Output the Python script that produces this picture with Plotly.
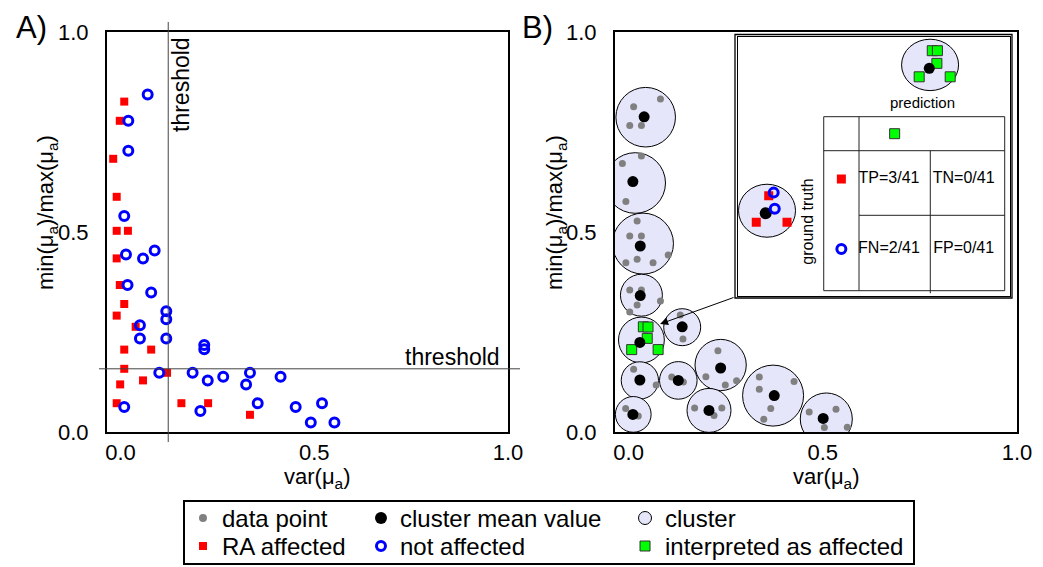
import plotly.graph_objects as go

W, H = 1043, 567
FONT = "Liberation Sans, Arial, sans-serif"

# ---------------- Panel A data ----------------
ra_var = [0.0095, -0.002, -0.019, -0.010, -0.010, 0.019, -0.010, -0.002, 0.0095, -0.010,
          0.039, 0.0095, 0.079, 0.0095, 0.120, -0.001, 0.058, -0.010, 0.157, 0.226, 0.334]
ra_ratio = [0.826, 0.778, 0.683, 0.588, 0.503, 0.503, 0.434, 0.3675, 0.32, 0.291,
            0.263, 0.206, 0.206, 0.158, 0.148, 0.119, 0.129, 0.072, 0.072, 0.072, 0.043]
na_var = [0.070, 0.020, 0.020, 0.0095, 0.014, 0.058, 0.088, 0.018, 0.079, 0.118,
          0.118, 0.050, 0.050, 0.118, 0.216, 0.216, 0.100, 0.186, 0.225, 0.265,
          0.334, 0.324, 0.413, 0.0095, 0.206, 0.354, 0.452, 0.520, 0.491, 0.552]
na_ratio = [0.844, 0.778, 0.703, 0.54, 0.444, 0.434, 0.454, 0.3675, 0.349, 0.302,
            0.282, 0.267, 0.234, 0.234, 0.2175, 0.207, 0.148, 0.148, 0.129, 0.138,
            0.148, 0.119, 0.138, 0.0625, 0.0525, 0.072, 0.0625, 0.072, 0.024, 0.024]
threshold_var = 0.123
threshold_ratio = 0.158

# ---------------- Panel B data ----------------
cluster_x = [0.044, 0.017, 0.037, 0.033, 0.033, 0.138, 0.029, 0.128, 0.237, 0.207, 0.372, 0.509, 0.012]
cluster_y = [0.787, 0.6225, 0.471, 0.342, 0.23, 0.262, 0.129, 0.129, 0.1675, 0.054, 0.091, 0.0325, 0.044]
cluster_r = [0.0767, 0.078, 0.0785, 0.054, 0.059, 0.0476, 0.048, 0.0484, 0.066, 0.0566, 0.0785, 0.067, 0.046]
mean_x = [0.040, 0.011, 0.030, 0.030, 0.029, 0.138, 0.029, 0.128, 0.237, 0.207, 0.375, 0.501, 0.011]
mean_y = [0.788, 0.626, 0.465, 0.341, 0.224, 0.263, 0.130, 0.129, 0.160, 0.054, 0.091, 0.034, 0.044]
point_x = [0.013, 0.082, 0.003, 0.033,
           0.033, -0.016, -0.007,
           0.022, 0.003, 0.033, 0.102, -0.007, 0.022, 0.063,
           0.003, 0.033, 0.082, 0.022, 0.003,
           0.133, 0.140,
           0.013, 0.071,
           0.111, 0.141,
           0.230, 0.199, 0.249, 0.278,
           0.170, 0.240, 0.220,
           0.3365, 0.426, 0.3365, 0.366, 0.348,
           0.465, 0.534, 0.504, 0.563,
           -0.0075, 0.025]
point_y = [0.813, 0.8325, 0.766, 0.766,
           0.69, 0.671, 0.576,
           0.5275, 0.49, 0.49, 0.4425, 0.423, 0.432, 0.423,
           0.355, 0.355, 0.3275, 0.3175, 0.30,
           0.2925, 0.2325,
           0.157, 0.1175,
           0.1375, 0.125,
           0.203, 0.138, 0.1175, 0.128,
           0.06, 0.06, 0.041,
           0.1375, 0.126, 0.107, 0.059, 0.032,
           0.05, 0.057, 0.011, 0.012,
           0.059, 0.04]
interp_x = [0.038, 0.050, 0.048, 0.008, 0.076]
interp_y = [0.263, 0.2625, 0.234, 0.206, 0.206]

# ---------------- Inset data (inset's own unit coordinates) ----------------
pred_cluster = dict(x=0.708, y=0.892, rx=0.1048, ry=0.0994)
pred_mean = ([0.705], [0.879])
pred_green_x = [0.716, 0.735, 0.733, 0.668, 0.782]
pred_green_y = [0.947, 0.947, 0.898, 0.846, 0.846]
gt_cluster = dict(x=0.1085, y=0.328, rx=0.1048, ry=0.1025)
gt_mean = ([0.1037], [0.318])
gt_red_x = [0.069, 0.182, 0.1147]
gt_red_y = [0.283, 0.283, 0.386]
gt_blue_x = [0.133, 0.137]
gt_blue_y = [0.398, 0.336]
table_cols = [0.317, 0.4467, 0.7088, 0.9824]
table_rows = [0.0186, 0.3102, 0.5602, 0.6917]
cm_labels = ["TP=3/41", "TN=0/41", "FN=2/41", "FP=0/41"]
cm_x = [0.557, 0.8316, 0.557, 0.8316]
cm_y = [0.4507, 0.4507, 0.18, 0.18]

# ---------------- Legend ----------------
legend_labels = ["data point", "cluster mean value", "cluster",
                 "RA affected", "not affected", "interpreted as affected"]

RED = "#ff0000"
BLUE = "#0000ff"
GREEN = "#00ff00"
GRAY = "#808080"
LAV = "#e6e6fa"


def pxx(x):
    return x / W


def pxy(y):
    return 1 - y / H


fig = go.Figure()

A_dom_x = [pxx(107), pxx(508)]
B_dom_x = [pxx(615), pxx(1017)]
dom_y = [pxy(432), pxy(32)]
xr = [-0.035, 1.0]
yr = [0, 1]
IN_dom_x = [pxx(737.5), pxx(1009.5)]
IN_dom_y = [pxy(295.5), pxy(37)]
LG_dom_x = [pxx(185), pxx(913)]
LG_dom_y = [pxy(563), pxy(502)]

# Panel A
fig.add_trace(go.Scatter(x=ra_var, y=ra_ratio, mode="markers", xaxis="x", yaxis="y",
                         marker=dict(symbol="square", size=8, color=RED), showlegend=False))
fig.add_trace(go.Scatter(x=na_var, y=na_ratio, mode="markers", xaxis="x", yaxis="y",
                         marker=dict(symbol="circle-open", size=9, color=BLUE, line=dict(width=3, color=BLUE)),
                         showlegend=False))

# Panel B
fig.add_trace(go.Scatter(x=point_x, y=point_y, mode="markers", xaxis="x2", yaxis="y2",
                         marker=dict(size=7, color=GRAY), showlegend=False))
fig.add_trace(go.Scatter(x=interp_x, y=interp_y, mode="markers", xaxis="x2", yaxis="y2",
                         marker=dict(symbol="square", size=10, color=GREEN, line=dict(width=1, color="#333333")),
                         showlegend=False))
fig.add_trace(go.Scatter(x=mean_x, y=mean_y, mode="markers", xaxis="x2", yaxis="y2",
                         marker=dict(size=11, color="black"), showlegend=False))

# Inset
fig.add_trace(go.Scatter(x=pred_green_x, y=pred_green_y, mode="markers", xaxis="x3", yaxis="y3",
                         marker=dict(symbol="square", size=10, color=GREEN, line=dict(width=1, color="#333333")),
                         showlegend=False))
fig.add_trace(go.Scatter(x=pred_mean[0], y=pred_mean[1], mode="markers", xaxis="x3", yaxis="y3",
                         marker=dict(size=11, color="black"), showlegend=False))
fig.add_trace(go.Scatter(x=gt_red_x, y=gt_red_y, mode="markers", xaxis="x3", yaxis="y3",
                         marker=dict(symbol="square", size=9, color=RED), showlegend=False))
fig.add_trace(go.Scatter(x=gt_mean[0], y=gt_mean[1], mode="markers", xaxis="x3", yaxis="y3",
                         marker=dict(size=12, color="black"), showlegend=False))
fig.add_trace(go.Scatter(x=gt_blue_x, y=gt_blue_y, mode="markers", xaxis="x3", yaxis="y3",
                         marker=dict(symbol="circle-open", size=9, color=BLUE, line=dict(width=3, color=BLUE)),
                         showlegend=False))
fig.add_trace(go.Scatter(x=[(table_cols[1] + table_cols[2]) / 2], y=[(table_rows[2] + table_rows[3]) / 2],
                         mode="markers", xaxis="x3", yaxis="y3",
                         marker=dict(symbol="square", size=10, color=GREEN, line=dict(width=1, color="#333333")),
                         showlegend=False))
fig.add_trace(go.Scatter(x=[(table_cols[0] + table_cols[1]) / 2], y=[cm_y[0]], mode="markers", xaxis="x3", yaxis="y3",
                         marker=dict(symbol="square", size=9, color=RED), showlegend=False))
fig.add_trace(go.Scatter(x=[(table_cols[0] + table_cols[1]) / 2], y=[cm_y[2]], mode="markers", xaxis="x3", yaxis="y3",
                         marker=dict(symbol="circle-open", size=9, color=BLUE, line=dict(width=3, color=BLUE)),
                         showlegend=False))
fig.add_trace(go.Scatter(x=cm_x, y=cm_y, mode="text", text=cm_labels, xaxis="x3", yaxis="y3",
                         textfont=dict(size=16, family=FONT, color="black"), showlegend=False))

ann = []

# Legend (manual)
leg_col_x = [0.0247, 0.2692, 0.6319]
leg_row_y = [0.7377, 0.2787]
leg_markers = [
    dict(size=8, color=GRAY),
    dict(size=12, color="black"),
    dict(size=13, color=LAV, line=dict(width=1, color="black")),
    dict(symbol="square", size=8, color=RED),
    dict(symbol="circle-open", size=9, color=BLUE, line=dict(width=3, color=BLUE)),
    dict(symbol="square", size=10, color=GREEN, line=dict(width=1, color="#333333")),
]
for i, lab in enumerate(legend_labels):
    cx = leg_col_x[i % 3]
    cy = leg_row_y[i // 3]
    fig.add_trace(go.Scatter(x=[cx], y=[cy], mode="markers", xaxis="x4", yaxis="y4",
                             marker=leg_markers[i], showlegend=False, cliponaxis=False))
    ann.append(dict(x=cx + 0.024, y=cy, xref="x4", yref="y4", text=lab, showarrow=False,
                    xanchor="left", yanchor="middle", font=dict(size=24, family=FONT, color="black")))

shapes = []
bx_ppu = (1017 - 615) / (xr[1] - xr[0])
by_ppu = (432 - 32) / (yr[1] - yr[0])
for cx, cy, r in zip(cluster_x, cluster_y, cluster_r):
    ry = r * bx_ppu / by_ppu
    shapes.append(dict(type="circle", xref="x2", yref="y2", x0=cx - r, x1=cx + r, y0=cy - ry, y1=cy + ry,
                       fillcolor=LAV, line=dict(color="black", width=1), layer="below"))
for c in (pred_cluster, gt_cluster):
    shapes.append(dict(type="circle", xref="x3", yref="y3", x0=c["x"] - c["rx"], x1=c["x"] + c["rx"],
                       y0=c["y"] - c["ry"], y1=c["y"] + c["ry"],
                       fillcolor=LAV, line=dict(color="black", width=1), layer="below"))
shapes.append(dict(type="line", xref="x", yref="paper", x0=threshold_var, x1=threshold_var,
                   y0=pxy(442), y1=pxy(22), line=dict(color="#444444", width=1)))
shapes.append(dict(type="line", xref="paper", yref="y", x0=pxx(99), x1=pxx(520),
                   y0=threshold_ratio, y1=threshold_ratio, line=dict(color="#444444", width=1)))
shapes.append(dict(type="rect", xref="paper", yref="paper", x0=pxx(735), x1=pxx(1012),
                   y0=pxy(298), y1=pxy(34.5), line=dict(color="black", width=1.3)))
tl = dict(color="#222222", width=1)
c0, c1, c2, c3 = table_cols
r0, r1, r2, r3 = table_rows
shapes.append(dict(type="rect", xref="x3", yref="y3", x0=c0, x1=c3, y0=r0, y1=r3, line=tl))
shapes.append(dict(type="line", xref="x3", yref="y3", x0=c1, x1=c1, y0=r0, y1=r3, line=tl))
shapes.append(dict(type="line", xref="x3", yref="y3", x0=c2, x1=c2, y0=r0 - 0.01, y1=r2, line=tl))
shapes.append(dict(type="line", xref="x3", yref="y3", x0=c0, x1=c3, y0=r2, y1=r2, line=tl))
shapes.append(dict(type="line", xref="x3", yref="y3", x0=c1, x1=c3, y0=r1, y1=r1, line=tl))

tick_font = dict(size=22, family=FONT, color="black")
title_font = dict(size=22, family=FONT, color="black")
C = dict(xanchor="center", yanchor="middle", showarrow=False, xref="paper", yref="paper")
ann.append(dict(x=pxx(31), y=pxy(27), text="A)", font=dict(size=31, family=FONT, color="black"), **C))
ann.append(dict(x=pxx(537), y=pxy(27), text="B)", font=dict(size=31, family=FONT, color="black"), **C))
ytitle = "min(μ<sub>a</sub>)/max(μ<sub>a</sub>)"
xtitle = "var(μ<sub>a</sub>)"
ann.append(dict(x=pxx(47), y=pxy(213), text=ytitle, textangle=-90, font=title_font, **C))
ann.append(dict(x=pxx(556), y=pxy(213), text=ytitle, textangle=-90, font=title_font, **C))
ann.append(dict(x=pxx(317), y=pxy(478), text=xtitle, font=title_font, **C))
ann.append(dict(x=pxx(826), y=pxy(478), text=xtitle, font=title_font, **C))
ann.append(dict(x=pxx(181), y=pxy(85), text="threshold", textangle=-90,
                font=dict(size=23, family=FONT, color="black"), **C))
ann.append(dict(x=pxx(452), y=pxy(357), text="threshold",
                font=dict(size=23, family=FONT, color="black"), **C))
ann.append(dict(x=0.679, y=0.747, xref="x3", yref="y3", text="prediction", showarrow=False,
                xanchor="center", yanchor="middle", font=dict(size=15, family=FONT, color="black")))
ann.append(dict(x=0.254, y=0.284, xref="x3", yref="y3", text="ground truth", textangle=-90, showarrow=False,
                xanchor="center", yanchor="middle", font=dict(size=16, family=FONT, color="black")))
ann.append(dict(x=0.081, y=0.27, xref="x2", yref="y2", ax=0.274, ay=0.3375, axref="x2", ayref="y2",
                text="", showarrow=True, arrowhead=2, arrowsize=1.6, arrowwidth=1, arrowcolor="black"))

axis_common = dict(showgrid=False, zeroline=False, showline=True, mirror=True, linecolor="black",
                   linewidth=2, ticks="", tickfont=tick_font, automargin=False)
hidden_axis = dict(range=[0, 1], showgrid=False, zeroline=False, showline=True, mirror=True,
                   linecolor="black", ticks="", showticklabels=False, automargin=False, fixedrange=True)

fig.update_layout(
    template="none",
    width=W, height=H,
    autosize=False,
    margin=dict(l=0, r=0, t=0, b=0, pad=0, autoexpand=False),
    paper_bgcolor="white", plot_bgcolor="white",
    showlegend=False,
    font=dict(family=FONT),
    xaxis=dict(domain=A_dom_x, range=xr, anchor="y", tickvals=[0, 0.5, 1], ticktext=["0.0", "0.5", "1.0"],
               **axis_common),
    yaxis=dict(domain=dom_y, range=yr, anchor="x", tickvals=[0, 0.5, 1], ticktext=["0.0", "0.5", "1.0"],
               ticklabelstandoff=12, **axis_common),
    xaxis2=dict(domain=B_dom_x, range=xr, anchor="y2", tickvals=[0, 0.5, 1], ticktext=["0.0", "0.5", "1.0"],
                **axis_common),
    yaxis2=dict(domain=dom_y, range=yr, anchor="x2", tickvals=[0, 0.5, 1], ticktext=["0.0", "0.5", "1.0"],
                ticklabelstandoff=12, **axis_common),
    xaxis3=dict(domain=IN_dom_x, anchor="y3", linewidth=1.3, **hidden_axis),
    yaxis3=dict(domain=IN_dom_y, anchor="x3", linewidth=1.3, **hidden_axis),
    xaxis4=dict(domain=LG_dom_x, anchor="y4", linewidth=1.5, **hidden_axis),
    yaxis4=dict(domain=LG_dom_y, anchor="x4", linewidth=1.5, **hidden_axis),
    shapes=shapes,
    annotations=ann,
    hovermode=False,
)

fig.write_html("out.html", config={"displayModeBar": False},
               post_script="document.body.style.margin='0';document.body.style.padding='0';")
